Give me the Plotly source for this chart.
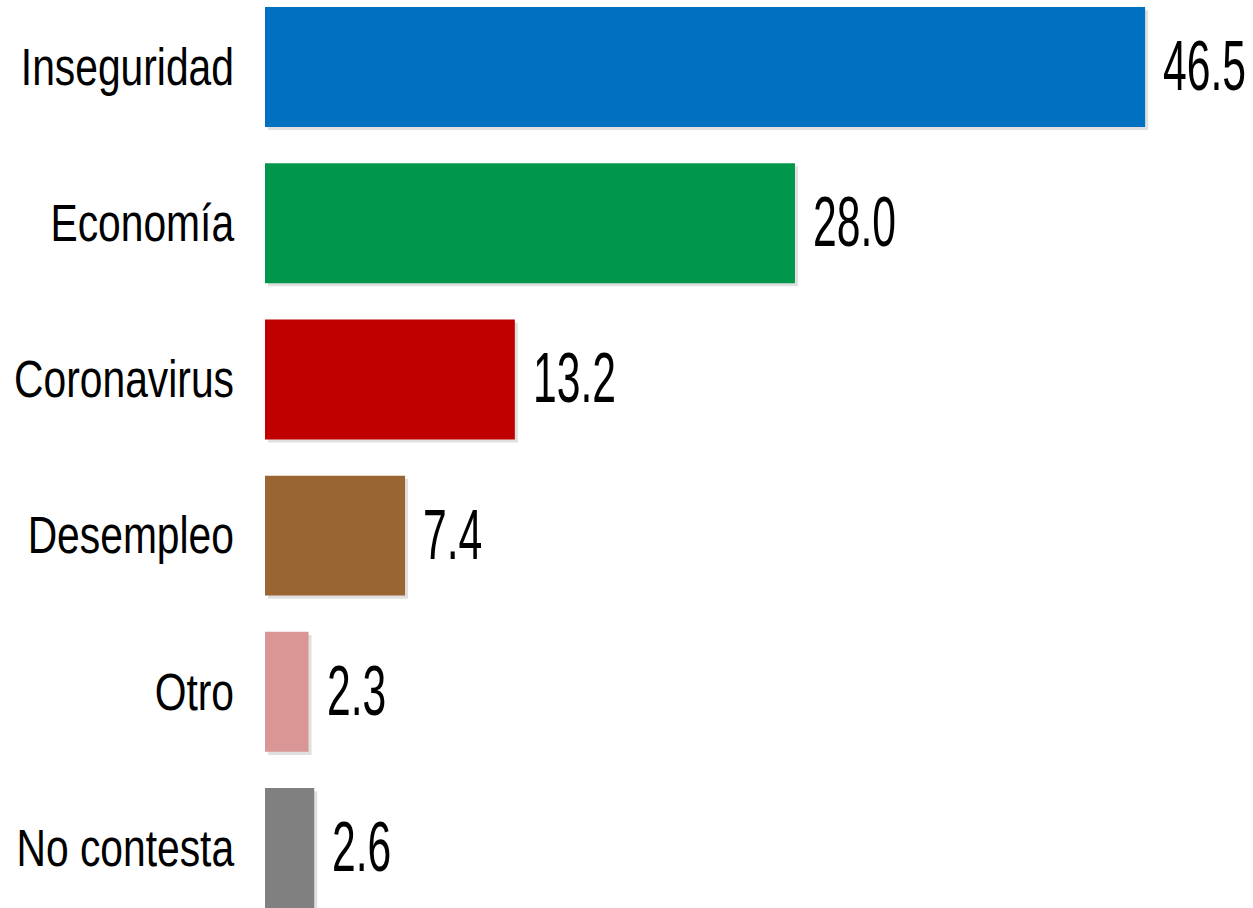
import plotly.graph_objects as go

categories = ["Inseguridad", "Economía", "Coronavirus", "Desempleo", "Otro", "No contesta"]
values = [46.5, 28.0, 13.2, 7.4, 2.3, 2.6]
colors = ["#0070C0", "#00974C", "#C00000", "#996633", "#DA9694", "#808080"]
value_labels = ["46.5", "28.0", "13.2", "7.4", "2.3", "2.6"]

LABEL_FONT = "Liberation Sans, Arial, sans-serif"
VALUE_FONT = "Liberation Sans, Arial, sans-serif"

fig = go.Figure()

# soft shadow
fig.add_trace(go.Bar(
    y=categories, x=values, orientation="h",
    marker=dict(color="rgba(0,0,0,0.12)", line=dict(width=0)),
    width=0.768, offset=-0.384 + 0.02, base=0.16,
    hoverinfo="skip", showlegend=False,
))
fig.add_trace(go.Bar(
    y=categories, x=values, orientation="h",
    marker=dict(color=colors, line=dict(width=0)),
    width=0.768, offset=-0.384,
    showlegend=False,
))

for c, v, t in zip(categories, values, value_labels):
    fig.add_annotation(x=v, y=c, text=t, showarrow=False, xanchor="left",
                       yanchor="middle", xshift=16, yshift=1,
                       font=dict(family=VALUE_FONT, size=70, color="#000000"))

fig.update_layout(
    width=1253, height=908,
    margin=dict(l=265, r=0, t=0, b=0, autoexpand=False),
    paper_bgcolor="white", plot_bgcolor="white",
    barmode="overlay",
    xaxis=dict(range=[0, 52.2], visible=False, fixedrange=True),
    yaxis=dict(type="category", range=[5.384, -0.429], showgrid=False,
               zeroline=False, showline=False, ticks="", automargin=False,
               ticklabelstandoff=30, fixedrange=True,
               tickfont=dict(family=LABEL_FONT, size=51, color="#000000")),
)

post = """
document.body.style.margin='0px';
var gd=document.getElementById('{plot_id}');
function squeeze(sel, s, keep){
  gd.querySelectorAll(sel).forEach(function(t){
    var b=t.getBBox();
    var ax = keep==='right' ? b.x+b.width : b.x;
    var tr=t.getAttribute('transform')||'';
    t.setAttribute('transform', tr+' translate('+ax+',0) scale('+s+',1) translate('+(-ax)+',0)');
  });
}
squeeze('g.ytick text', 0.80, 'right');
squeeze('text.annotation-text', 0.61, 'left');
"""

fig.write_html("out.html", post_script=post, config={"displayModeBar": False})
